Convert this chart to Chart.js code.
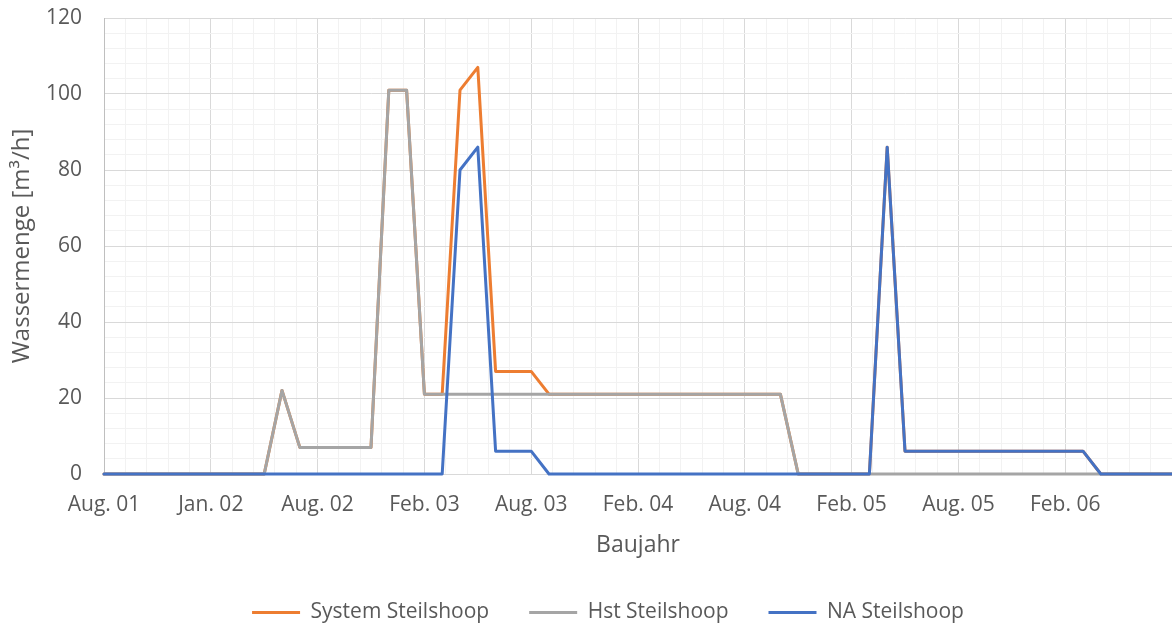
<!DOCTYPE html>
<html>
<head>
<meta charset="utf-8">
<script src="https://cdn.jsdelivr.net/npm/chart.js@4"></script>
<style>
  body { margin: 0; background: #fff; }
  #wrap { width: 1172px; height: 626px; }
</style>
</head>
<body>
<div id="wrap"><canvas id="chart" width="1172" height="626"></canvas></div>
<script>
// Monthly values, month 0 = Aug. 01
const systemValues = [0, 0, 0, 0, 0, 0, 0, 0, 0, 0, 22, 7, 7, 7, 7, 7, 101, 101, 21, 21,
  101, 107, 27, 27, 27, 21, 21, 21, 21, 21, 21, 21, 21, 21, 21, 21, 21, 21, 21, 0,
  0, 0, 0, 0, 86, 6, 6, 6, 6, 6, 6, 6, 6, 6, 6, 6, 0, 0, 0, 0, 0];
const hstValues = [0, 0, 0, 0, 0, 0, 0, 0, 0, 0, 22, 7, 7, 7, 7, 7, 101, 101, 21, 21,
  21, 21, 21, 21, 21, 21, 21, 21, 21, 21, 21, 21, 21, 21, 21, 21, 21, 21, 21, 0,
  0, 0, 0, 0, 0, 0, 0, 0, 0, 0, 0, 0, 0, 0, 0, 0, 0, 0, 0, 0, 0];
const naValues = [0, 0, 0, 0, 0, 0, 0, 0, 0, 0, 0, 0, 0, 0, 0, 0, 0, 0, 0, 0,
  80, 86, 6, 6, 6, 0, 0, 0, 0, 0, 0, 0, 0, 0, 0, 0, 0, 0, 0, 0,
  0, 0, 0, 0, 86, 6, 6, 6, 6, 6, 6, 6, 6, 6, 6, 6, 0, 0, 0, 0, 0];
const months = systemValues.map((v, i) => i);

// one label every 6 months, minor grid every 1.2 months (as in the Excel original)
const xLabels = ['Aug. 01', 'Jan. 02', 'Aug. 02', 'Feb. 03', 'Aug. 03', 'Feb. 04',
  'Aug. 04', 'Feb. 05', 'Aug. 05', 'Feb. 06'];

const textColor = '#595959';
const majorGrid = '#d9d9d9';
const minorGrid = '#f2f2f2';
const font = 'Open Sans';

function lineSet(label, data, color, order) {
  return {
    label: label,
    data: data,
    borderColor: color,
    backgroundColor: color,
    borderWidth: 3,
    pointRadius: 0,
    tension: 0,
    borderJoinStyle: 'round',
    borderCapStyle: 'round',
    clip: 4,
    order: order
  };
}

// Excel centres the legend a bit right of the canvas middle
const legendShift = {
  id: 'legendShift',
  afterLayout(chart) {
    chart.legend.left += 22;
    chart.legend.right += 22;
  }
};

new Chart(document.getElementById('chart'), {
  type: 'line',
  data: {
    labels: months,
    datasets: [
      lineSet('System Steilshoop', systemValues, '#ed7d31', 2),
      lineSet('Hst Steilshoop', hstValues, '#a5a5a5', 1),
      lineSet('NA Steilshoop', naValues, '#4472c4', 0)
    ]
  },
  plugins: [legendShift],
  options: {
    responsive: false,
    animation: false,
    events: [],
    layout: { padding: { top: 18, left: 0, right: 0, bottom: 0 } },
    plugins: {
      tooltip: { enabled: false },
      legend: {
        position: 'bottom',
        maxHeight: 64,
        labels: {
          boxWidth: 48,
          boxHeight: 3,
          padding: 40,
          color: textColor,
          font: { family: font, size: 21 },
          sort: (a, b) => a.datasetIndex - b.datasetIndex,
          generateLabels: (chart) => {
            const items = Chart.defaults.plugins.legend.labels.generateLabels(chart);
            for (const item of items) { item.lineWidth = 0; }
            return items;
          }
        }
      }
    },
    scales: {
      x: {
        type: 'linear',
        min: 0,
        max: 60,
        afterBuildTicks: (scale) => {
          scale.ticks = [];
          for (let i = 0; i <= 50; i++) { scale.ticks.push({ value: i * 1.2 }); }
        },
        afterFit: (scale) => {
          scale.height = 88;
          scale.paddingLeft = 0;
          scale.paddingRight = 0;
        },
        grid: {
          drawTicks: false,
          color: (ctx) => ctx.index % 5 === 0 ? majorGrid : minorGrid,
          lineWidth: 1
        },
        border: { display: true, color: majorGrid },
        ticks: {
          autoSkip: false,
          maxRotation: 0,
          padding: 18,
          color: textColor,
          font: { family: font, size: 21 },
          callback: (value, index) => index % 5 === 0 ? (xLabels[index / 5] || '') : ''
        },
        title: {
          display: true,
          text: 'Baujahr',
          color: textColor,
          font: { family: font, size: 23 },
          padding: { top: 0, bottom: 3 }
        }
      },
      y: {
        min: 0,
        max: 120,
        afterFit: (scale) => {
          scale.width = 104;
          scale.paddingTop = 0;
          scale.paddingBottom = 0;
        },
        grid: {
          drawTicks: false,
          color: (ctx) => ctx.index % 5 === 0 ? majorGrid : minorGrid,
          lineWidth: 1
        },
        border: { display: true, color: '#bfbfbf' },
        ticks: {
          stepSize: 4,
          autoSkip: false,
          padding: 22,
          color: textColor,
          font: { family: font, size: 21 },
          callback: (value) => value % 20 === 0 ? value : ''
        },
        title: {
          display: true,
          text: 'Wassermenge [m³/h]',
          color: textColor,
          font: { family: font, size: 24 },
          padding: { top: 8, bottom: 0 }
        }
      }
    }
  }
});
</script>
</body>
</html>
